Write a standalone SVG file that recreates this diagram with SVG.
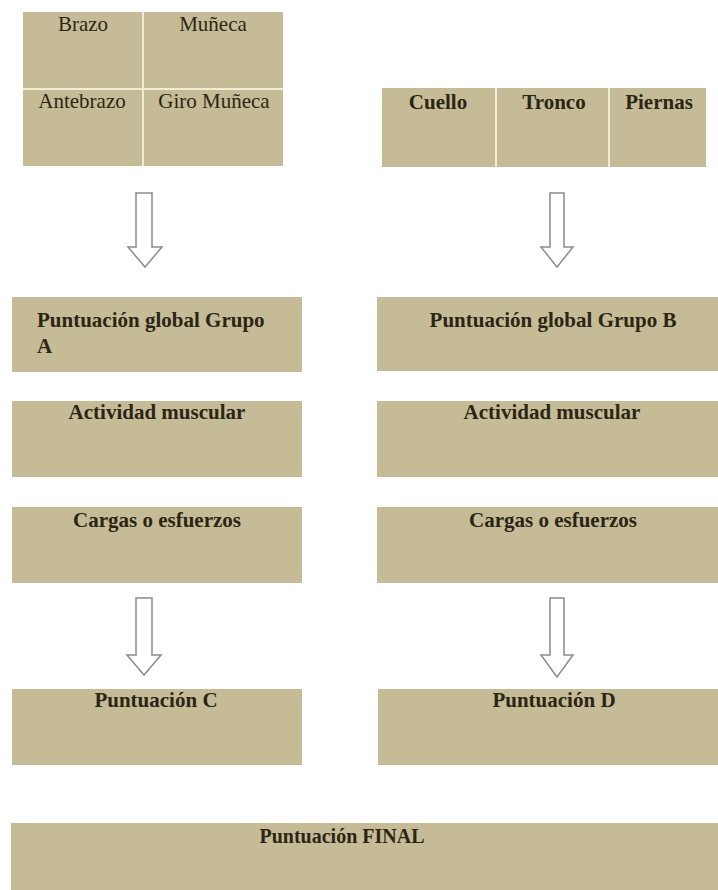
<svg xmlns="http://www.w3.org/2000/svg" width="718" height="890" viewBox="0 0 718 890">
<style>
.box{fill:#c5bc97;}
.sep{stroke:#f1ecd8;stroke-width:2;}
.t{font-family:"Liberation Serif","Times New Roman",serif;font-size:21px;fill:#2b2614;}
.b{font-weight:bold;}
.arr{fill:#ffffff;stroke:#8c8c8c;stroke-width:1.5;stroke-linejoin:miter;}
</style>
<rect x="0" y="0" width="718" height="890" fill="#ffffff"/>
<g id="tablaA">
<rect class="box" x="23" y="12" width="260" height="154"/>
<line class="sep" x1="143" y1="12" x2="143" y2="166"/>
<line class="sep" x1="23" y1="89" x2="283" y2="89"/>
<text class="t" x="83" y="31" text-anchor="middle">Brazo</text>
<text class="t" x="213" y="31" text-anchor="middle">Muñeca</text>
<text class="t" x="82" y="108" text-anchor="middle">Antebrazo</text>
<text class="t" x="214" y="108" text-anchor="middle">Giro Muñeca</text>
</g>
<g id="tablaB">
<rect class="box" x="382" y="88" width="324" height="79"/>
<line class="sep" x1="496" y1="88" x2="496" y2="167"/>
<line class="sep" x1="609" y1="88" x2="609" y2="167"/>
<text class="t b" x="438" y="109" text-anchor="middle">Cuello</text>
<text class="t b" x="554" y="109" text-anchor="middle">Tronco</text>
<text class="t b" x="659" y="109" text-anchor="middle">Piernas</text>
</g>
<g id="connectors">
<path class="arr" d="M136,193 H152 V247 H162 L145,267 L128,247 H136 Z"/>
<path class="arr" d="M550,193 H564 V247 H573 L557,267 L541,247 H550 Z"/>
<path class="arr" d="M136,598 H152 V655 H161 L144,675 L127,655 H136 Z"/>
<path class="arr" d="M550,598 H564 V655 H573 L557,677 L541,655 H550 Z"/>
</g>
<g id="grupoA">
<rect class="box" x="12" y="297" width="290" height="75"/>
<text class="t b" x="37" y="327">Puntuación global Grupo</text>
<text class="t b" x="37" y="353">A</text>
</g>
<g id="grupoB">
<rect class="box" x="377" y="297" width="341" height="74"/>
<text class="t b" x="553" y="327" text-anchor="middle">Puntuación global Grupo B</text>
</g>
<g id="actividadA">
<rect class="box" x="12" y="401" width="290" height="76"/>
<text class="t b" x="157" y="419" text-anchor="middle">Actividad muscular</text>
</g>
<g id="actividadB">
<rect class="box" x="377" y="401" width="341" height="76"/>
<text class="t b" x="552" y="419" text-anchor="middle">Actividad muscular</text>
</g>
<g id="cargasA">
<rect class="box" x="12" y="507" width="290" height="76"/>
<text class="t b" x="157" y="527" text-anchor="middle">Cargas o esfuerzos</text>
</g>
<g id="cargasB">
<rect class="box" x="377" y="507" width="341" height="76"/>
<text class="t b" x="553" y="527" text-anchor="middle">Cargas o esfuerzos</text>
</g>
<g id="puntC">
<rect class="box" x="12" y="689" width="290" height="76"/>
<text class="t b" x="156" y="707" text-anchor="middle">Puntuación C</text>
</g>
<g id="puntD">
<rect class="box" x="378" y="689" width="340" height="76"/>
<text class="t b" x="554" y="707" text-anchor="middle">Puntuación D</text>
</g>
<g id="final">
<rect class="box" x="11" y="823" width="707" height="67"/>
<text class="t b" x="342" y="843" text-anchor="middle" style="font-size:20px">Puntuación FINAL</text>
</g>
</svg>
